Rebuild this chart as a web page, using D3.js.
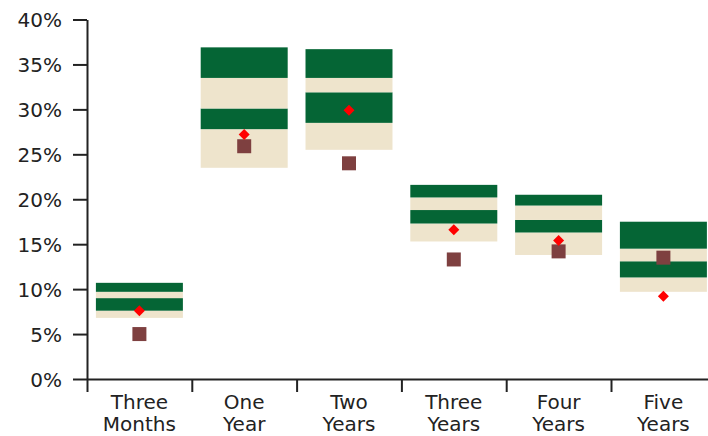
<!DOCTYPE html>
<html>
<head>
<meta charset="utf-8">
<script src="https://cdn.jsdelivr.net/npm/d3@7"></script>
<style>
  body { margin: 0; background: #fff; }
  text { font-family: "DejaVu Sans", Verdana, sans-serif; fill: #222; }
</style>
</head>
<body>
<div id="chart"></div>
<script>
// categories and the band boundaries (percent), bottom to top
const categories = [["Three", "Months"], ["One", "Year"], ["Two", "Years"],
                    ["Three", "Years"], ["Four", "Years"], ["Five", "Years"]];
const low  = [6.8, 23.5, 25.5, 15.3, 13.8, 9.7];
const b1   = [7.6, 27.8, 28.5, 17.3, 16.3, 11.3];
const b2   = [9.0, 30.1, 31.9, 18.8, 17.7, 13.1];
const b3   = [9.7, 33.5, 33.5, 20.2, 19.3, 14.5];
const high = [10.7, 36.9, 36.7, 21.6, 20.5, 17.5];
const diamondVals = [7.6, 27.2, 29.9, 16.6, 15.4, 9.2];
const squareVals  = [5.0, 25.9, 24.0, 13.3, 14.2, 13.5];
const yTicks = [0, 5, 10, 15, 20, 25, 30, 35, 40];

const width = 708, height = 436;
const left = 87, step = 104.8;
const green = "#056535", beige = "#EEE4CC";

const svg = d3.select("#chart").append("svg")
  .attr("width", width).attr("height", height);

const x = d3.scaleBand()
  .domain(d3.range(categories.length))
  .range([left, left + step * categories.length])
  .padding(0);
const xEdge = d3.scaleLinear()
  .domain([0, categories.length])
  .range([left, left + step * categories.length]);
const y = d3.scaleLinear().domain([0, 40]).range([379, 19.5]);

const boxW = x.bandwidth() * 0.83;

// stacked bands
const g = svg.append("g");
categories.forEach(function(c, i) {
  const bounds = [low[i], b1[i], b2[i], b3[i], high[i]];
  const x0 = x(i) + (x.bandwidth() - boxW) / 2;
  for (let k = 0; k < 4; k++) {
    g.append("rect")
      .attr("x", x0)
      .attr("width", boxW)
      .attr("y", y(bounds[k + 1]))
      .attr("height", y(bounds[k]) - y(bounds[k + 1]))
      .attr("fill", k % 2 == 0 ? beige : green);
  }
});

// squares
svg.append("g").selectAll("rect")
  .data(squareVals)
  .join("rect")
    .attr("x", (d, i) => x(i) + x.bandwidth() / 2 - 7)
    .attr("y", d => y(d) - 7)
    .attr("width", 14).attr("height", 14)
    .attr("fill", "#7E4040");

// diamonds
svg.append("g").selectAll("path")
  .data(diamondVals)
  .join("path")
    .attr("transform", (d, i) => "translate(" + (x(i) + x.bandwidth() / 2) + "," + y(d) + ")")
    .attr("d", "M0,-5.5L5.5,0L0,5.5L-5.5,0Z")
    .attr("fill", "#FF0000");

// y axis
const yAxis = svg.append("g")
  .attr("transform", "translate(" + left + ",0)")
  .call(d3.axisLeft(y).tickValues(yTicks).tickFormat(d => d + "%").tickSize(14).tickSizeOuter(0).tickPadding(11));
yAxis.selectAll("text").style("font-size", "20px").attr("dy", "0.36em");

// x axis
const xAxis = svg.append("g")
  .attr("transform", "translate(0,379)")
  .call(d3.axisBottom(xEdge).tickValues(d3.range(categories.length + 1)).tickFormat("").tickSize(13).tickSizeOuter(0));

svg.selectAll(".domain, .tick line").attr("stroke", "#222").attr("stroke-width", 2);

// category labels
const labels = svg.append("g");
categories.forEach(function(c, i) {
  const t = labels.append("text")
    .attr("text-anchor", "middle")
    .style("font-size", "20px");
  c.forEach(function(line, j) {
    t.append("tspan")
      .attr("x", x(i) + x.bandwidth() / 2)
      .attr("y", 409 + j * 22)
      .text(line);
  });
});
</script>
</body>
</html>
